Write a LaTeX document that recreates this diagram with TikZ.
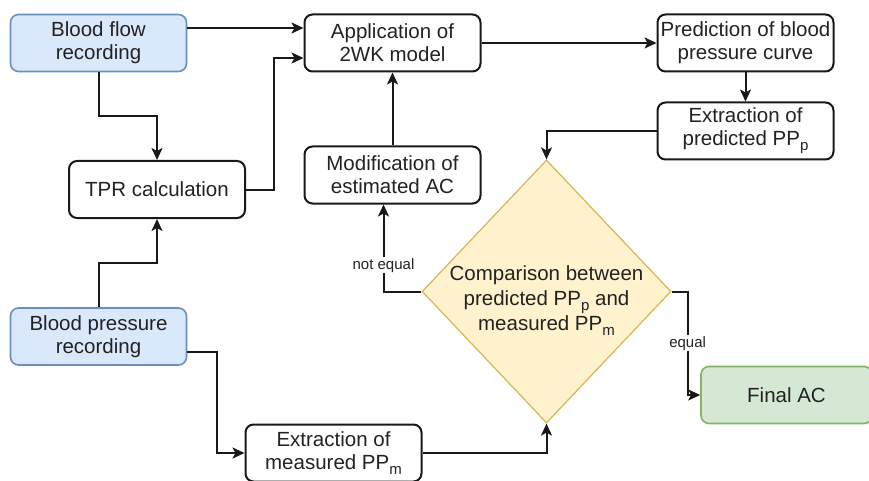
\documentclass[tikz,border=0pt]{standalone}
\usepackage{fontspec}
\setmainfont{Liberation Sans}
\usetikzlibrary{arrows.meta,shapes.geometric}
\definecolor{recfill}{HTML}{DAE8FC}
\definecolor{recline}{HTML}{6C8EBF}
\definecolor{cmpfill}{HTML}{FFF2CC}
\definecolor{cmpline}{HTML}{D6B656}
\definecolor{finfill}{HTML}{D5E8D4}
\definecolor{finline}{HTML}{82B366}
\definecolor{txtgray}{HTML}{222222}
\newcommand{\ppsub}[1]{PP\raisebox{-0.25em}{\fontsize{15}{15}\selectfont #1}}

\begin{document}
\begin{tikzpicture}[x=1pt, y=-1pt,
	procbox/.style={draw=black!90, line width=2pt, rounded corners=8pt, minimum width=176pt, minimum height=57pt, inner sep=0pt, align=center, text=txtgray, font=\fontsize{20.5}{23}\selectfont},
	recbox/.style={procbox, fill=recfill, draw=recline, line width=1.6pt},
	finbox/.style={procbox, fill=finfill, draw=finline, line width=1.6pt, minimum width=171pt},
	cmpbox/.style={diamond, aspect=0.95, fill=cmpfill, draw=cmpline, line width=1.2pt, minimum width=249pt, minimum height=263pt, inner sep=0pt},
	conn/.style={draw=black!90, line width=2pt, -{Stealth[length=12pt,width=11pt,inset=3pt]}},
	lbl/.style={fill=white, inner sep=1pt, text=txtgray, font=\fontsize{15}{17}\selectfont}]
			%%%%% START %%%%%
			
			\useasboundingbox (0,0) rectangle (869,481);
			
			\node[recbox] (bf) at (98.5,43) {Blood flow\\recording};
			\node[recbox] (bp) at (98.5,336.5) {Blood pressure\\recording};
			\node[procbox] (tpr) at (157,189.5) {TPR calculation};
			\node[procbox] (app) at (392.5,43) {Application of\\2WK model};
			\node[procbox] (mod) at (392.5,175) {Modification of\\estimated AC};
			\node[procbox] (pred) at (745.5,43) {Prediction of blood\\pressure curve};
			\node[procbox] (extp) at (745.5,131) {Extraction of\\predicted \ppsub{p}};
			\node[procbox] (extm) at (333.5,453) {Extraction of\\measured \ppsub{m}};
			\node[cmpbox, label={[align=center, text=txtgray, yshift=-9pt, font=\fontsize{20.5}{25}\selectfont]center:Comparison between\\predicted \ppsub{p} and\\measured \ppsub{m}}] (cmp) at (546.5,291.5) {};
			\node[finbox] (fin) at (786.5,395) {Final AC};
			
			\draw[conn] ([yshift=15pt]bf.east) -- ([yshift=15pt]app.west);
			\draw[conn] (bf.south) -- ++(0,44) -| (tpr.north);
			\draw[conn] (bp.north) -- ++(0,-44) -| (tpr.south);
			\draw[conn] (tpr.east) -- ++(28,0) |- ([yshift=-15pt]app.west);
			\draw[conn] ([yshift=-15.5pt]bp.east) -- ++(30,0) |- (extm.west);
			
			\draw[conn] (app.east) -- (pred.west);
			\draw[conn] (pred.south) -- (extp.north);
			\draw[conn] (extp.west) -| (cmp.north);
			\draw[conn] (extm.east) -| (cmp.south);
			\draw[conn] (mod.north) -- (app.south);
			
			\draw[conn] (cmp.west) -| node[lbl, pos=0.65] {not equal} ([xshift=-9pt]mod.south);
			\draw[conn] (cmp.east) -- ++(16,0) |- node[lbl, pos=0.25] {equal} (fin.west);
			
			%%%%% END %%%%%
\end{tikzpicture}
\end{document}
